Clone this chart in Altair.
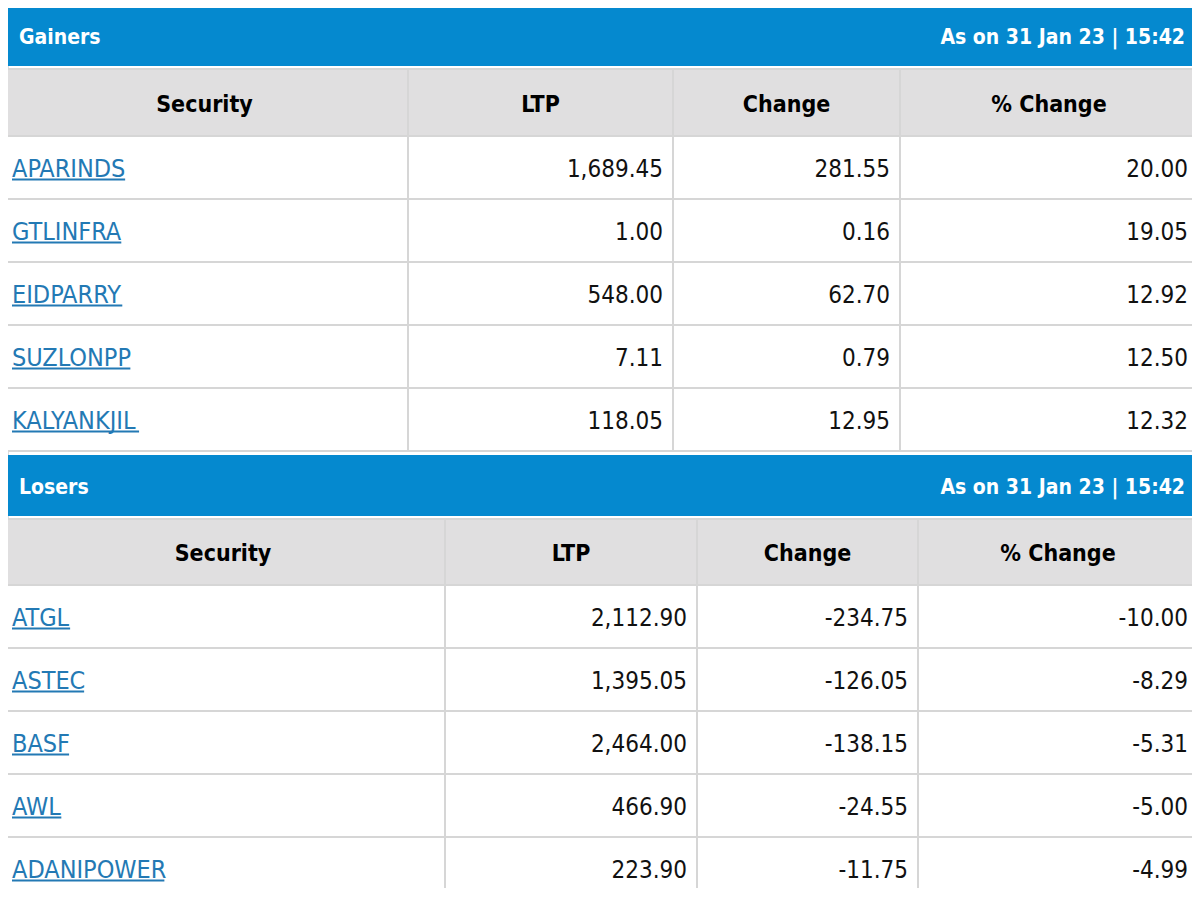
import altair as alt
import pandas as pd

# ---------------- data ----------------
gain_sec = ["APARINDS", "GTLINFRA", "EIDPARRY", "SUZLONPP", "KALYANKJIL"]
gain_ltp = [1689.45, 1.00, 548.00, 7.11, 118.05]
gain_chg = [281.55, 0.16, 62.70, 0.79, 12.95]
gain_pct = [20.00, 19.05, 12.92, 12.50, 12.32]

lose_sec = ["ATGL", "ASTEC", "BASF", "AWL", "ADANIPOWER"]
lose_ltp = [2112.90, 1395.05, 2464.00, 466.90, 223.90]
lose_chg = [-234.75, -126.05, -138.15, -24.55, -11.75]
lose_pct = [-10.00, -8.29, -5.31, -5.00, -4.99]

headers = ["Security", "LTP", "Change", "% Change"]
titles = ["Gainers", "Losers"]
stamp = "As on 31 Jan 23 | 15:42"

# ---------------- layout (pixels of the 1200x900 picture) ----------------
W, H = 1184, 880
OFF = 8
FONT = "DejaVu Sans Condensed, Liberation Sans Narrow, sans-serif"
BLUE = "#0589cf"
HEAD_BG = "#e0dfe0"
GRID = "#d6d6d6"
LINK = "#2379b4"

tables = [
    dict(title=titles[0], sec=gain_sec, ltp=gain_ltp, chg=gain_chg, pct=gain_pct,
         bar=(5, 66), head=(69, 136), edges=[1, 408, 673, 900, 1198]),
    dict(title=titles[1], sec=lose_sec, ltp=lose_ltp, chg=lose_chg, pct=lose_pct,
         bar=(455, 516), head=(519, 585), edges=[1, 445, 697, 918, 1198]),
]
ROW_H = 63

NAME_FS = 25
NUM_FS = 24
HEAD_FS = 23
TITLE_FS = 21

# DejaVu Sans uppercase advance widths (em), condensed factor, for underline length
CW = dict(A=.684, B=.686, C=.698, D=.770, E=.632, F=.575, G=.775, H=.752, I=.295,
          J=.295, K=.656, L=.557, M=.863, N=.748, O=.787, P=.603, Q=.787, R=.695,
          S=.635, T=.611, U=.732, V=.684, W=.989, X=.685, Y=.611, Z=.685)


def text_w(s):
    return sum(CW.get(c, .63) for c in s) * 0.885 * NAME_FS


bars, cells, htext, ltext, rtext, titl, titr, ulines = [], [], [], [], [], [], [], []
for t in tables:
    b0, b1 = t["bar"]
    bars.append(dict(x1=0, x2=1198, y1=b0, y2=b1))
    titl.append(dict(x=19, y=(b0 + b1) / 2 + 8, t=t["title"]))
    titr.append(dict(x=1185, y=(b0 + b1) / 2 + 8, t=stamp))
    e = t["edges"]
    h0, h1 = t["head"]
    for c in range(4):
        cells.append(dict(x1=e[c], x2=e[c + 1], y1=h0, y2=h1, fill=HEAD_BG))
        htext.append(dict(x=(e[c] + e[c + 1]) / 2, y=(h0 + h1) / 2 + 9, t=headers[c]))
    for r in range(5):
        y1 = h1 + r * ROW_H
        y2 = y1 + ROW_H
        yc = (y1 + y2) / 2
        for c in range(4):
            cells.append(dict(x1=e[c], x2=e[c + 1], y1=y1, y2=y2, fill="#ffffff"))
        name = t["sec"][r]
        ltext.append(dict(x=12, y=yc + 9, t=name))
        ulines.append(dict(x1=12, x2=12 + text_w(name), y=yc + 12))
        vals = [f"{t['ltp'][r]:,.2f}", f"{t['chg'][r]:,.2f}", f"{t['pct'][r]:,.2f}"]
        for c in range(1, 4):
            rtext.append(dict(x=e[c + 1] - 10, y=yc + 9, t=vals[c - 1]))

xs = alt.Scale(domain=[OFF, OFF + W], nice=False, zero=False)
ys = alt.Scale(domain=[OFF, OFF + H], nice=False, zero=False, reverse=True)
X = lambda f: alt.X(f, type="quantitative", scale=xs, axis=None)
Y = lambda f: alt.Y(f, type="quantitative", scale=ys, axis=None)

bar_l = alt.Chart(pd.DataFrame(bars)).mark_rect(color=BLUE).encode(
    x=X("x1"), x2="x2", y=Y("y1"), y2="y2")
cell_l = alt.Chart(pd.DataFrame(cells)).mark_rect(stroke=GRID, strokeWidth=2).encode(
    x=X("x1"), x2="x2", y=Y("y1"), y2="y2", fill=alt.Fill("fill:N", scale=None))
tl = alt.Chart(pd.DataFrame(titl)).mark_text(
    align="left", baseline="alphabetic", font=FONT, fontSize=TITLE_FS, fontWeight="bold",
    color="white").encode(x=X("x"), y=Y("y"), text="t:N")
tr = alt.Chart(pd.DataFrame(titr)).mark_text(
    align="right", baseline="alphabetic", font=FONT, fontSize=TITLE_FS, fontWeight="bold",
    color="white").encode(x=X("x"), y=Y("y"), text="t:N")
ht = alt.Chart(pd.DataFrame(htext)).mark_text(
    align="center", baseline="alphabetic", font=FONT, fontSize=HEAD_FS, fontWeight="bold",
    color="#000000").encode(x=X("x"), y=Y("y"), text="t:N")
lt = alt.Chart(pd.DataFrame(ltext)).mark_text(
    align="left", baseline="alphabetic", font=FONT, fontSize=NAME_FS, color=LINK).encode(
    x=X("x"), y=Y("y"), text="t:N")
ul = alt.Chart(pd.DataFrame(ulines)).mark_rule(color=LINK, strokeWidth=2).encode(
    x=X("x1"), x2="x2", y=Y("y"))
rt = alt.Chart(pd.DataFrame(rtext)).mark_text(
    align="right", baseline="alphabetic", font=FONT, fontSize=NUM_FS, color="#111111").encode(
    x=X("x"), y=Y("y"), text="t:N")

chart = alt.layer(bar_l, cell_l, tl, tr, ht, lt, ul, rt).properties(
    width=W, height=H, padding=0, autosize=alt.AutoSizeParams(type="none")
).configure_view(stroke=None).configure(background="white")

chart.save("out.html", embed_options={"renderer": "svg", "actions": False})
